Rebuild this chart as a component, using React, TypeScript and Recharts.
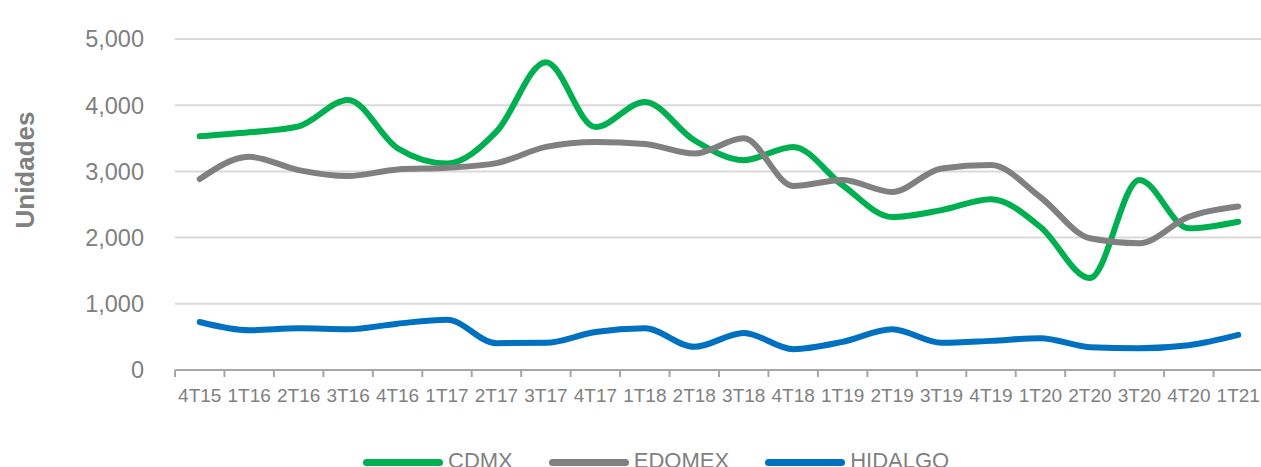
import React from 'react';
import { LineChart, Line, XAxis, YAxis, CartesianGrid } from 'recharts';

const categories = ['4T15','1T16','2T16','3T16','4T16','1T17','2T17','3T17','4T17','1T18','2T18','3T18','4T18','1T19','2T19','3T19','4T19','1T20','2T20','3T20','4T20','1T21'];
const cdmx = [3530,3590,3680,4080,3350,3120,3600,4650,3670,4050,3470,3170,3370,2790,2310,2415,2580,2160,1390,2870,2140,2240];
const edomex = [2885,3220,3020,2930,3030,3055,3125,3370,3445,3415,3270,3500,2780,2870,2690,3045,3095,2610,1990,1915,2315,2470];
const hidalgo = [725,600,630,615,700,760,405,410,575,630,350,560,315,425,615,410,440,480,345,330,375,530];
const yTicks = [0,1000,2000,3000,4000,5000];

const seriesNames = ['CDMX','EDOMEX','HIDALGO'];
const seriesKeys = ['cdmx','edomex','hidalgo'];
const seriesColors = ['#00B050','#808080','#0070C0'];

const data = categories.map((c, i) => ({ cat: c, cdmx: cdmx[i], edomex: edomex[i], hidalgo: hidalgo[i] }));

const FONT = '"Liberation Sans", Arial, sans-serif';
const TEXT = '#808080';

const XTick = (props: any) => {
  const { x, y, payload, width, visibleTicksCount } = props;
  let off = payload && typeof payload.offset === 'number' ? payload.offset : 0;
  if (!off && width && visibleTicksCount) off = width / visibleTicksCount / 2;
  return (
    <g>
      <line x1={x - off} x2={x - off} y1={y} y2={y + 7} stroke="#a6a6a6" strokeWidth={2} />
      <text x={x} y={y + 19} dy="0.71em" textAnchor="middle" fill={TEXT} fontSize={19} fontFamily={FONT}>
        {payload.value}
      </text>
    </g>
  );
};

const YLabel = () => (
  <text x={34} y={170} transform="rotate(-90 34 170)" textAnchor="middle" fill={TEXT} fontSize={26} fontWeight="bold" fontFamily={FONT}>
    Unidades
  </text>
);

export default function App() {
  return (
    <div style={{ position: 'absolute', left: 0, top: 0, width: 1261, height: 467, background: '#fff', overflow: 'hidden' }}>
      <LineChart width={1263} height={467} data={data} margin={{ top: 39, right: 0, bottom: 0, left: 0 }}>
        <CartesianGrid vertical={false} stroke="#d9d9d9" strokeWidth={2} />
        <XAxis
          dataKey="cat"
          scale="band"
          height={97}
          axisLine={{ stroke: '#a6a6a6', strokeWidth: 2 }}
          tickLine={false}
          tickSize={0}
          tickMargin={0}
          interval={0}
          tick={<XTick />}
        />
        <YAxis
          width={175}
          domain={[0, 5000]}
          ticks={yTicks}
          axisLine={false}
          tickLine={false}
          tickSize={0}
          tickMargin={31}
          tick={{ fill: TEXT, fontSize: 23.5, fontFamily: FONT }}
          tickFormatter={(v: number) => v.toLocaleString('en-US')}
          label={<YLabel />}
        />
        {seriesKeys.map((k, i) => (
          <Line
            key={k}
            type="monotone"
            dataKey={k}
            name={seriesNames[i]}
            stroke={seriesColors[i]}
            strokeWidth={6}
            dot={false}
            activeDot={false}
            strokeLinecap="round"
            isAnimationActive={false}
          />
        ))}
      </LineChart>
      <div style={{ position: 'absolute', left: 363, top: 446, display: 'flex', alignItems: 'center', fontFamily: FONT, fontSize: 22, color: TEXT, lineHeight: '30px' }}>
        {seriesNames.map((n, i) => (
          <div key={n} style={{ display: 'flex', alignItems: 'center', marginRight: 36 }}>
            <div style={{ width: 80, height: 7, borderRadius: 4, background: seriesColors[i], marginRight: 5, marginTop: 3 }} />
            <span>{n}</span>
          </div>
        ))}
      </div>
    </div>
  );
}
